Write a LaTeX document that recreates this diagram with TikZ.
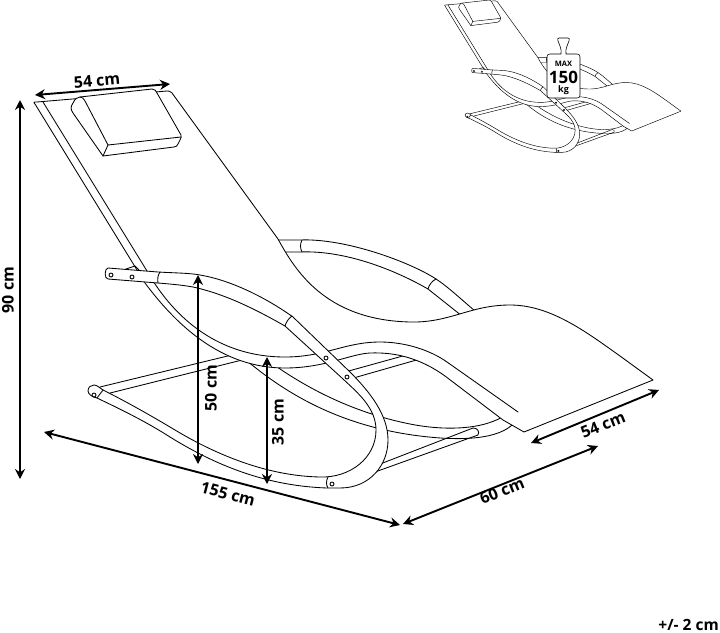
\documentclass[tikz,border=0pt]{standalone}
\usepackage{fontspec}
\setmainfont{Open Sans}
\usetikzlibrary{arrows.meta}
\tikzset{
  ln/.style={draw=black,line join=round,line cap=round},
  solid fill/.style={ln,fill=white},
  dimline/.style={draw=black,line width=1.9pt,{Stealth[length=10pt,width=10pt]}-{Stealth[length=10pt,width=10pt]}},
  dimtext/.style={font=\bfseries\fontsize{16}{16}\selectfont,inner sep=0pt,text=black},
  hole/.style={ln,fill=white}
}
\newcommand{\chairart}[1]{%
  % far side tube
  \path[ln] (270,240) -- (300,240) .. controls (345,238) and (410,262) .. (436,279) .. controls (447,286) and (462,300) .. (475,311);
  \path[ln] (270,252) -- (300,252) .. controls (345,250) and (395,270) .. (428,289) -- (462,316);
  \path[ln] (302,240) .. controls (300,244) and (300,248) .. (302,252);
  \path[ln] (436,279) .. controls (432,281) and (429,285) .. (428,289);
  % rear and middle crossbars
  \path[ln] (100,387) -- (240,353);
  \path[ln] (110,393) -- (250,358);
  \path[ln] (345,372) -- (410,354);
  \path[ln] (350,379) -- (420,359);
  % far rocker
  \path[ln] (262,356) .. controls (300,385) and (350,412) .. (410,424) .. controls (445,431) and (485,430) .. (507,414);
  \path[ln] (240,355) .. controls (275,385) and (330,425) .. (420,436) .. controls (460,441) and (500,440) .. (515,422);
  % front crossbar
  \path[ln] (375,466) -- (473,428) .. controls (477,428) and (480,431) .. (478,435) -- (375,472);
  % seat
  \path[solid fill] (35,104) .. controls (33,102) and (34,102) .. (37,102) -- (167,91)
    .. controls (169,91) and (170,91) .. (172,93) -- (278,239)
    .. controls (295,270) and (325,320) .. (410,322)
    .. controls (450,323) and (470,305) .. (510,305)
    .. controls (550,305) and (585,331) .. (620,356) -- (653,380)
    -- (524,432) -- (503,420) -- (445,376)
    .. controls (420,358) and (395,352) .. (370,353)
    .. controls (350,354) and (325,368) .. (285,368)
    .. controls (225,368) and (180,330) .. (145,283)
    -- cycle;
  \path[ln] (43,102) -- (147,271)
    .. controls (175,320) and (220,357) .. (285,357)
    .. controls (325,357) and (345,342) .. (380,342)
    .. controls (405,342) and (430,350) .. (447,362) -- (518,412);
  % pillow
  \path[solid fill] (80,97) -- (152,89) .. controls (155,89) and (156,91) .. (157,93) -- (181,135)
    .. controls (182,138) and (179,141) .. (178,144) .. controls (177,146) and (176,147) .. (174,147) -- (103,156)
    -- (73,113) .. controls (70,109) and (71,106) .. (73,103) .. controls (75,99) and (77,97) .. (80,97) -- cycle;
  \path[ln] (80,97) .. controls (82,97) and (83,98) .. (85,101) -- (108,145) -- (181,137);
  \path[ln] (108,145) -- (103,156);
  % small bracket behind the near tube
  \path[ln] (126,269) -- (135,266) -- (139,270);
  % near tube
  \path[solid fill] (108,268) -- (158,272) .. controls (175,273) and (190,273) .. (200,275)
    .. controls (230,280) and (265,297) .. (293,317) -- (350,372)
    .. controls (370,392) and (388,415) .. (388,440)
    .. controls (388,465) and (370,488) .. (340,488) -- (327,488)
    .. controls (270,486) and (220,468) .. (170,437)
    .. controls (145,421) and (120,409) .. (97,398)
    .. controls (92,397) and (88,394) .. (88,391) .. controls (88,387) and (91,385) .. (94,385)
    .. controls (97,385) and (100,388) .. (103,390)
    .. controls (125,401) and (150,415) .. (175,430)
    .. controls (220,457) and (270,476) .. (320,477)
    .. controls (350,478) and (376,458) .. (376,430)
    .. controls (376,408) and (358,393) .. (343,379) -- (285,326)
    .. controls (255,309) and (225,294) .. (193,287)
    .. controls (182,285) and (170,284) .. (158,283) -- (108,279)
    .. controls (104,279) and (104.5,268) .. (108,268) -- cycle;
  \path[ln] (160,272) .. controls (157.5,275) and (157.5,280) .. (158,283);
  \path[ln] (292,316) .. controls (289,318) and (286,322) .. (285,326);
  \path[ln] (103,390) -- (97,398);
  \path[ln] (328,477) .. controls (326,481) and (326,485) .. (328,488);
  \path[hole] (111,275) circle[radius=2];
  \path[hole] (132,277) circle[radius=2];
  \path[hole] (326,358) circle[radius=2];
  \path[hole] (347,377) circle[radius=2];
  \path[hole] (94,395) circle[radius=2];
  \path[hole] (332,484) circle[radius=2];
}
\begin{document}
\begin{tikzpicture}[x=1pt,y=-1pt]
\useasboundingbox[fill=white] (0,0) rectangle (720,632);
% small picture
\begin{scope}[shift={(431.5,-34)},scale=.382,ln/.append style={line width=.45pt}]
  \chairart{}
\end{scope}
% weight
\path[solid fill,line width=.6pt] (550,54) -- (561,54) .. controls (562,49) and (559,44) .. (558,41)
  .. controls (557,39) and (558,38) .. (559,38) -- (568,38) .. controls (569,38) and (570,39) .. (569,41)
  .. controls (568,44) and (565,49) .. (566,54) -- (577,54) .. controls (579,54) and (580,55) .. (580,57)
  -- (580,95) .. controls (580,97) and (579,98) .. (577,98) -- (550,98) .. controls (548,98) and (547,97) .. (547,95)
  -- (547,57) .. controls (547,55) and (548,54) .. (550,54) -- cycle;
\node[inner sep=0pt,font=\bfseries\fontsize{7.5}{7.5}\selectfont] (wmax) at (563.5,64) {MAX};
\node[inner sep=0pt,font=\bfseries\fontsize{17}{17}\selectfont] (wnum) at (563.5,77) {150};
\node[inner sep=0pt,font=\bfseries\fontsize{9}{9}\selectfont] (wkg) at (563.5,90) {kg};
% main picture
\begin{scope}[ln/.append style={line width=.85pt}]
  \chairart{}
\end{scope}
% dimensions
\coordinate (wa) at (35,95);   \coordinate (wb) at (170,84);
\coordinate (ha) at (20,100);  \coordinate (hb) at (20,479);
\coordinate (fa) at (198,275); \coordinate (fb) at (198,464);
\coordinate (ta) at (267,357); \coordinate (tb) at (267,484);
\coordinate (la) at (44,432);  \coordinate (lb) at (400,525);
\coordinate (da) at (403,524); \coordinate (db) at (598,446);
\coordinate (sa) at (531,443); \coordinate (sb) at (659,390);
\draw[dimline] (wa) -- (wb);
\draw[dimline] (ha) -- (hb);
\draw[dimline] (fa) -- (fb);
\draw[dimline] (ta) -- (tb);
\draw[dimline] (la) -- (lb);
\draw[dimline] (da) -- (db);
\draw[dimline] (sa) -- (sb);
\node[dimtext,rotate=5] (lw) at (97,81) {54 cm};
\node[dimtext,rotate=90] (lh) at (8,290) {90 cm};
\node[dimtext,rotate=90] (lf) at (211,388) {50 cm};
\node[dimtext,rotate=90] (lt) at (278,422) {35 cm};
\node[dimtext,rotate=-14.6] (ll) at (228,494) {155 cm};
\node[dimtext,rotate=22] (ld) at (502,491) {60 cm};
\node[dimtext,rotate=22] (ls) at (603,425) {54 cm};
\node[inner sep=0pt,font=\bfseries\fontsize{15.5}{15.5}\selectfont,anchor=east] (tol) at (719,625) {+/- 2 cm};
\end{tikzpicture}
\end{document}
